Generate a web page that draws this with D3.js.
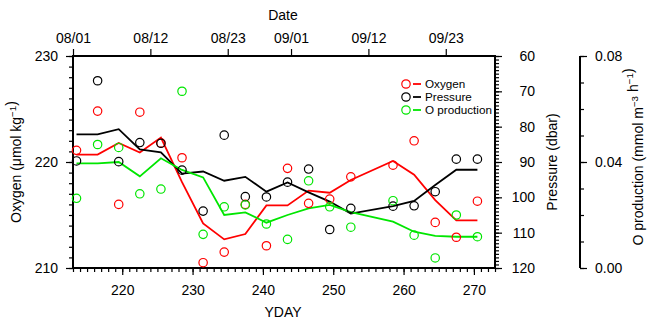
<!DOCTYPE html>
<html><head><meta charset="utf-8">
<script src="https://cdn.jsdelivr.net/npm/d3@7"></script>
<style>
body{margin:0;background:#fff}
svg{display:block}
text{font-family:"Liberation Sans",Arial,Helvetica,sans-serif;fill:#000}
</style></head><body>
<svg id="chart" width="647" height="322"></svg>
<script>
// Sampling days (day of year)
const days = [213.5, 216.5, 219.5, 222.5, 225.5, 228.5, 231.5, 234.5, 237.5, 240.5,
              243.5, 246.5, 249.5, 252.5, 258.5, 261.5, 264.5, 267.5, 270.5];

// Oxygen (µmol/kg): individual values and running fit
const oxygenObs = [221.1, 224.8, 216.0, 224.7, 221.8, 220.4, 210.5, 211.5, 216.0, 212.1,
                   219.4, 216.1, 216.5, 218.6, 219.7, 222.0, 214.3, 212.9, 216.3];
const oxygenFit = [220.7, 220.7, 221.8, 220.9, 222.3, 218.1, 214.2, 212.7, 213.2, 215.9,
                   215.9, 217.3, 217.1, 218.3, 220.1, 218.8, 216.4, 214.5, 214.5];

// Pressure (dbar)
const pressureObs = [89.7, 67.0, 89.9, 84.5, 84.7, 92.3, 103.9, 82.4, 99.8, 99.9,
                     95.7, 92.0, 109.1, 103.1, 102.5, 102.4, 98.4, 89.2, 89.2];
const pressureFit = [82.2, 82.2, 80.7, 86.4, 87.3, 93.3, 92.7, 95.3, 94.2, 98.4,
                     95.8, 98.6, 101.2, 104.6, 102.5, 101.0, 96.5, 92.2, 92.2];

// Oxygen production (mmol m-3 h-1)
const productionObs = [0.0263, 0.0466, 0.0455, 0.0280, 0.0298, 0.0667, 0.0127, 0.0231, 0.0238, 0.0166,
                       0.0108, 0.0329, 0.0231, 0.0154, 0.0254, 0.0124, 0.0038, 0.0200, 0.0118];
const productionFit = [0.0395, 0.0395, 0.0400, 0.0346, 0.0414, 0.0370, 0.0342, 0.0200, 0.0210, 0.0171,
                       0.0200, 0.0225, 0.0238, 0.0211, 0.0175, 0.0137, 0.0121, 0.0118, 0.0118];

// Axis ticks
const ydayTicks = [220, 230, 240, 250, 260, 270];
const dateTicks = [213, 224, 235, 244, 255, 266];
const dateLabels = ["08/01", "08/12", "08/23", "09/01", "09/12", "09/23"];
const oxygenTicks = [210, 220, 230];
const pressureTicks = [60, 70, 80, 90, 100, 110, 120];
const productionTicks = [0, 0.04, 0.08];

const seriesNames = ["Oxygen", "Pressure", "O production"];
const seriesColors = ["#ff0000", "#000000", "#00e600"];

const svg = d3.select("#chart");
const L = 73, R = 495, T = 56, B = 268;
const FS = 14;

const x = d3.scaleLinear().domain([213, 273]).range([L, R]);
const yO2 = d3.scaleLinear().domain([210, 230]).range([B, T]);
const yP = d3.scaleLinear().domain([60, 120]).range([T, B]);
const yProd = d3.scaleLinear().domain([0, 0.08]).range([B, T]);

function styleAxis(g) {
  g.select(".domain").remove();
  g.selectAll(".tick line").attr("stroke", "#000").attr("stroke-width", 1.2);
  g.selectAll("text").attr("font-size", FS).attr("font-family", null);
}

// Left oxygen axis
svg.append("g").attr("transform", `translate(${L},0)`)
  .call(d3.axisLeft(yO2).tickValues(d3.range(210, 231, 1)).tickSize(4).tickFormat(""))
  .call(styleAxis);
svg.append("g").attr("transform", `translate(${L},0)`)
  .call(d3.axisLeft(yO2).tickValues(oxygenTicks).tickSize(7).tickPadding(8).tickFormat(d3.format("d")))
  .call(styleAxis);

// Bottom yday axis
svg.append("g").attr("transform", `translate(0,${B})`)
  .call(d3.axisBottom(x).tickValues(d3.range(213, 274, 1)).tickSize(4).tickFormat(""))
  .call(styleAxis);
svg.append("g").attr("transform", `translate(0,${B})`)
  .call(d3.axisBottom(x).tickValues(ydayTicks).tickSize(7).tickPadding(10).tickFormat(d3.format("d")))
  .call(styleAxis);

// Top date axis
svg.append("g").attr("transform", `translate(0,${T})`)
  .call(d3.axisTop(x).tickValues(dateTicks).tickSize(7).tickPadding(6).tickFormat((d, i) => dateLabels[i]))
  .call(styleAxis);

// Right pressure axis
svg.append("g").attr("transform", `translate(${R},0)`)
  .call(d3.axisRight(yP).tickValues(d3.range(60, 121, 1)).tickSize(4).tickFormat(""))
  .call(styleAxis);
svg.append("g").attr("transform", `translate(${R},0)`)
  .call(d3.axisRight(yP).tickValues(pressureTicks).tickSize(7).tickFormat(d3.format("d")))
  .call(styleAxis)
  .call(g => g.selectAll("text").attr("text-anchor", "end").attr("x", 40));

// Offset O production axis
const PX = 580;
svg.append("line").attr("x1", PX).attr("x2", PX).attr("y1", T).attr("y2", B)
  .attr("stroke", "#000").attr("stroke-width", 2);
svg.append("g").attr("transform", `translate(${PX},0)`)
  .call(d3.axisRight(yProd).tickValues(d3.range(0, 0.0801, 0.01)).tickSize(4).tickFormat(""))
  .call(styleAxis);
svg.append("g").attr("transform", `translate(${PX},0)`)
  .call(d3.axisRight(yProd).tickValues(productionTicks).tickSize(7).tickPadding(8).tickFormat(d3.format(".2f")))
  .call(styleAxis);

// Plot frame
svg.append("rect").attr("x", L).attr("y", T).attr("width", R - L).attr("height", B - T)
  .attr("fill", "none").attr("stroke", "#000").attr("stroke-width", 2);

// Series
const series = [
  {obs: oxygenObs, fit: oxygenFit, y: yO2, color: seriesColors[0]},
  {obs: pressureObs, fit: pressureFit, y: yP, color: seriesColors[1]},
  {obs: productionObs, fit: productionFit, y: yProd, color: seriesColors[2]}
];

const plot = svg.append("g");
series.forEach(s => {
  const line = d3.line().x((d, i) => x(days[i])).y(d => s.y(d));
  plot.append("path").datum(s.fit).attr("d", line)
    .attr("fill", "none").attr("stroke", s.color).attr("stroke-width", 1.8)
    .attr("stroke-linejoin", "miter");
});
series.forEach(s => {
  plot.selectAll(null).data(s.obs).enter().append("circle")
    .attr("cx", (d, i) => x(days[i])).attr("cy", d => s.y(d)).attr("r", 4.2)
    .attr("fill", "none").attr("stroke", s.color).attr("stroke-width", 1.2);
});

// Legend
const legend = svg.append("g");
seriesNames.forEach((name, i) => {
  const ly = 84 + i * 13;
  legend.append("circle").attr("cx", 406).attr("cy", ly).attr("r", 4.2)
    .attr("fill", "none").attr("stroke", seriesColors[i]).attr("stroke-width", 1.2);
  legend.append("line").attr("x1", 413).attr("x2", 421).attr("y1", ly).attr("y2", ly)
    .attr("stroke", seriesColors[i]).attr("stroke-width", 1.8);
  legend.append("text").attr("x", 425).attr("y", ly).attr("dy", "0.35em")
    .attr("font-size", 11.7).text(name);
});

// Axis titles
svg.append("text").attr("x", 283).attr("y", 20).attr("text-anchor", "middle")
  .attr("font-size", FS).text("Date");
svg.append("text").attr("x", 283).attr("y", 317).attr("text-anchor", "middle")
  .attr("font-size", FS).text("YDAY");

function vtitle(cx, cy, parts) {
  const t = svg.append("text").attr("transform", `translate(${cx},${cy}) rotate(-90)`)
    .attr("text-anchor", "middle").attr("font-size", FS);
  parts.forEach(p => {
    if (p.sup) {
      t.append("tspan").attr("font-size", FS * 0.7).attr("dy", -5).text(p.t);
      t.append("tspan").attr("dy", 5).text("");
    } else {
      t.append("tspan").text(p.t);
    }
  });
}
vtitle(21, 162, [{t: "Oxygen (\u03bcmol kg"}, {t: "\u22121", sup: true}, {t: ")"}]);
vtitle(557, 162, [{t: "Pressure (dbar)"}]);
vtitle(643, 157, [{t: "O production (mmol m"}, {t: "\u22123", sup: true}, {t: " h"}, {t: "\u22121", sup: true}, {t: ")"}]);
</script></body></html>
